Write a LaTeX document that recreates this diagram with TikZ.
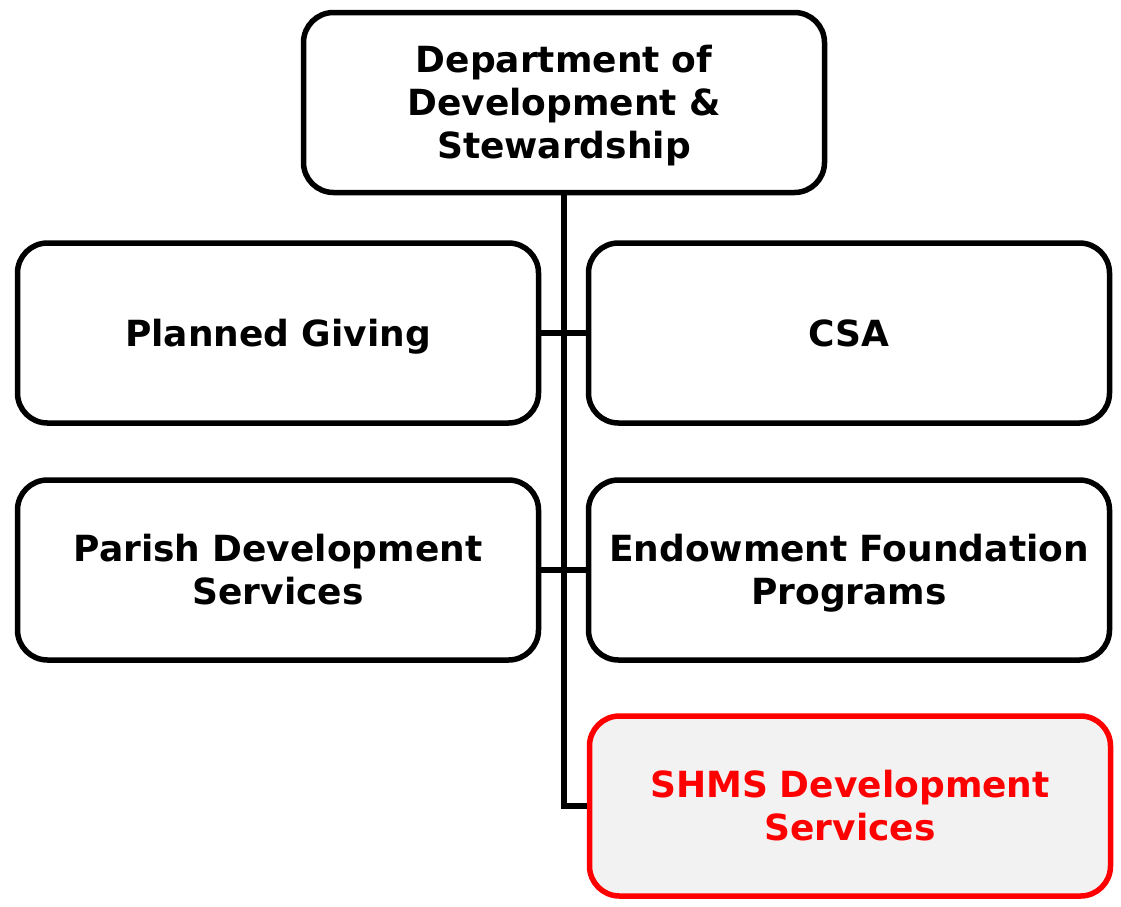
\documentclass[tikz,border=0pt]{standalone}
\usepackage{fontspec}
\setmainfont{DejaVu Sans}
\usepackage{xcolor}
\definecolor{hlred}{HTML}{FF0000}
\definecolor{hlfill}{HTML}{F2F2F2}

\tikzset{
  unitbox/.style={draw=black, line width=5.5pt, rounded corners=30pt, fill=white,
    minimum width=521pt, minimum height=180pt, text width=510pt, align=center,
    inner sep=0pt, text height=26pt, text depth=0pt,
    font=\bfseries\fontsize{36}{43}\selectfont},
  twolines/.style={text depth=43pt},
  threelines/.style={text depth=86pt},
  hlbox/.style={unitbox, draw=hlred, fill=hlfill, text=hlred},
  link/.style={line width=5.5pt}
}

\begin{document}
\begin{tikzpicture}[x=1pt, y=-1pt]
  \useasboundingbox (0,0) rectangle (1121,906);

  % Head of the department
  \node[unitbox, threelines] (dept) at (564,102.5) {Department of\\Development \&\\Stewardship};

  % Units below it, two per row
  \node[unitbox] (planned) at (278,333) {Planned Giving};
  \node[unitbox] (csa) at (849,333) {CSA};
  \node[unitbox, twolines] (parish) at (278,570) {Parish Development\\Services};
  \node[unitbox, twolines] (endow) at (849,570) {Endowment Foundation\\Programs};
  \node[hlbox, twolines] (shms) at (850,806) {SHMS Development\\Services};

  % Trunk and branches
  \draw[link] (dept.south) -- (dept.south |- shms.west) -- (shms.west);
  \draw[link] (planned.east) -- (csa.west);
  \draw[link] (parish.east) -- (endow.west);
\end{tikzpicture}
\end{document}
